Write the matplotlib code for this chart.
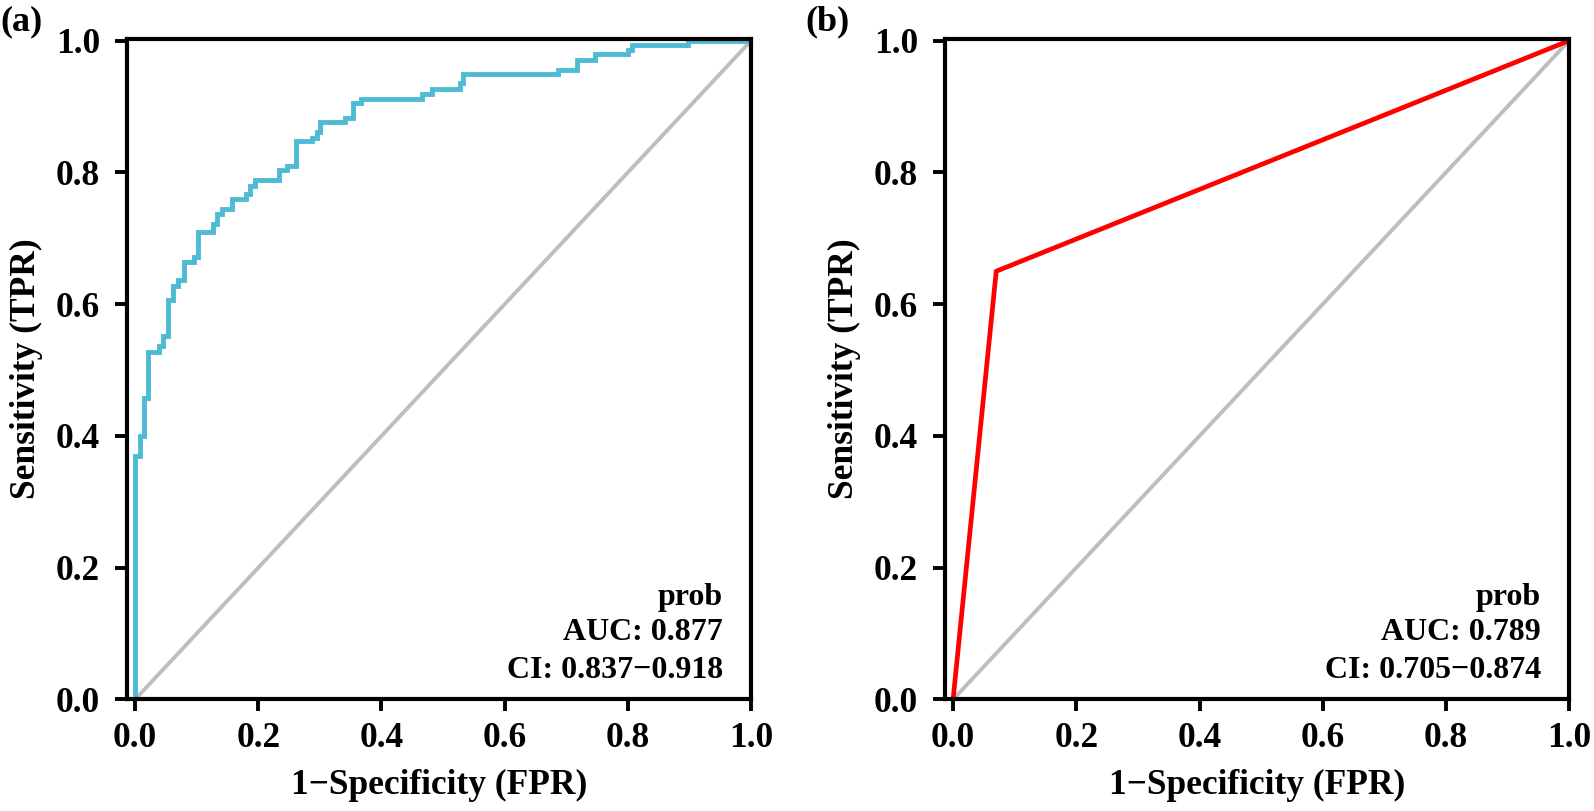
import matplotlib
matplotlib.use('Agg')
import matplotlib.pyplot as plt

# ROC (a): step corners
fpr_a = [0.0, 0.0, 0.008, 0.014, 0.021, 0.039, 0.045, 0.053, 0.061, 0.069,
         0.080, 0.095, 0.102, 0.127, 0.133, 0.141, 0.157, 0.180, 0.187, 0.194,
         0.233, 0.247, 0.262, 0.287, 0.295, 0.301, 0.340, 0.354, 0.366, 0.466,
         0.482, 0.528, 0.533, 0.687, 0.717, 0.746, 0.800, 0.806, 0.898, 1.0]
tpr_a = [0.0, 0.370, 0.400, 0.457, 0.528, 0.536, 0.551, 0.606, 0.628, 0.636,
         0.664, 0.671, 0.709, 0.722, 0.737, 0.745, 0.760, 0.768, 0.780, 0.788,
         0.803, 0.810, 0.848, 0.853, 0.861, 0.876, 0.883, 0.906, 0.911, 0.919,
         0.927, 0.935, 0.950, 0.956, 0.971, 0.979, 0.986, 0.993, 1.0, 1.0]

# ROC (b): binary predictor
fpr_b = [0.0, 0.07, 1.0]
tpr_b = [0.0, 0.65, 1.0]

labels = ['(a)', '(b)']
aucs = ['0.877', '0.789']
cis = ['0.837\u22120.918', '0.705\u22120.874']
colors = ['#4DBBD5', '#FF0000']
ticks = [0.0, 0.2, 0.4, 0.6, 0.8, 1.0]

plt.rcParams['font.family'] = ['Liberation Serif', 'DejaVu Serif']
plt.rcParams['font.weight'] = 'bold'

fig = plt.figure(figsize=(15.94, 8.11), dpi=100)
ax_a = fig.add_axes([0.0797, 0.1375, 0.3915, 0.8148])
ax_b = fig.add_axes([0.5929, 0.1375, 0.3915, 0.8148])

for i, ax in enumerate([ax_a, ax_b]):
    ax.plot([0, 1], [0, 1], color='#BEBEBE', lw=2.8, zorder=1)
    if i == 0:
        ax.plot(fpr_a, tpr_a, drawstyle='steps-post', color=colors[0], lw=3.5,
                solid_joinstyle='miter', zorder=2)
    else:
        ax.plot(fpr_b, tpr_b, color=colors[1], lw=3.4, zorder=2)
    ax.set_xlim(-0.013, 1.0)
    ax.set_ylim(0.0, 1.003)
    ax.set_xticks(ticks)
    ax.set_yticks(ticks)
    ax.set_xticklabels(['%.1f' % t for t in ticks])
    ax.set_yticklabels(['%.1f' % t for t in ticks])
    ax.tick_params(direction='out', length=8.5, width=2.8, labelsize=25.5)
    ax.tick_params(axis='x', pad=8)
    ax.tick_params(axis='y', pad=11)
    for s in ax.spines.values():
        s.set_linewidth(3.0)
    ax.set_xlabel('1\u2212Specificity (FPR)', fontsize=25.5, fontweight='bold', labelpad=10)
    ax.set_ylabel('Sensitivity (TPR)', fontsize=25.5, fontweight='bold', labelpad=9)
    ax.text(0.954, 0.143, 'prob', ha='right', va='baseline', fontsize=23, fontweight='bold')
    ax.text(0.954, 0.091, 'AUC: ' + aucs[i], ha='right', va='baseline', fontsize=23, fontweight='bold')
    ax.text(0.954, 0.032, 'CI: ' + cis[i], ha='right', va='baseline', fontsize=23, fontweight='bold')

fig.text(0.0, 0.963, labels[0], fontsize=26, fontweight='bold', va='baseline')
fig.text(0.505, 0.963, labels[1], fontsize=26, fontweight='bold', va='baseline')

fig.savefig('out.png', dpi=100)
